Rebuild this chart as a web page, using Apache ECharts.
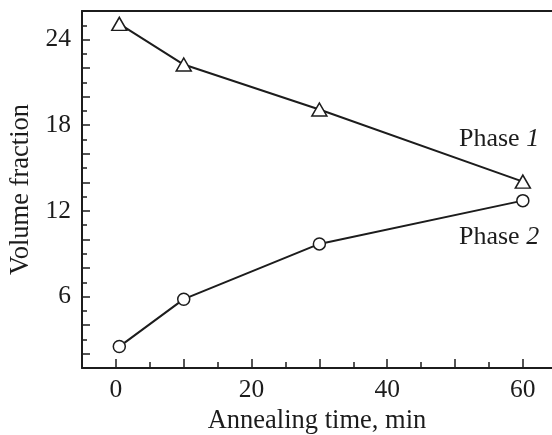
<!DOCTYPE html>
<html>
<head>
<meta charset="utf-8">
<script src="https://cdn.jsdelivr.net/npm/echarts@6/dist/echarts.min.js"></script>
<style>
    html, body { margin: 0; padding: 0; background: #fff; }
    #chart { width: 552px; height: 435px; }
</style>
</head>
<body>
<div id="chart"></div>
<script>
'use strict';
// values
var times = [0.5, 10, 30, 60];
var phase1 = [25.1, 22.25, 19.1, 14.05];
var phase2 = [2.5, 5.82, 9.69, 12.72];

var xLabels = [0, 20, 40, 60];
var xMajorTicks = [0, 10, 20, 30, 40, 50, 60];
var xMinorTicks = [5, 15, 25, 35, 45, 55];
var yLabels = [6, 12, 18, 24];
var yMajorTicks = [2, 4, 6, 8, 10, 12, 14, 16, 18, 20, 22, 24];
var yMinorTicks = [3, 5, 7, 9, 11, 13, 15, 17, 19, 21, 23, 25];

(function() {
    var font = 'Liberation Serif';
    var ink = '#1c1c1c';
    var chart = echarts.init(document.getElementById('chart'));

    function pairs(xs, ys) {
        var out = [];
        for (var i = 0; i < xs.length; i++) {
            out.push([xs[i], ys[i]]);
        }
        return out;
    }

    var xBase = { type: 'value', min: -5, max: 64.3, splitLine: { show: false } };
    var yBase = { type: 'value', min: 1, max: 26, splitLine: { show: false } };

    var option = {
        animation: false,
        backgroundColor: '#fff',
        textStyle: { fontFamily: font },
        grid: { left: 82, right: 0, top: 11, bottom: 67, containLabel: false, outerBoundsMode: 'none' },
        xAxis: [
            Object.assign({}, xBase, {
                position: 'bottom',
                name: 'Annealing time, min',
                nameLocation: 'middle',
                nameGap: 40,
                nameTextStyle: { fontFamily: font, fontSize: 26.5, color: ink },
                axisLine: { onZero: false, lineStyle: { color: ink, width: 2 } },
                axisTick: { inside: true, length: 9, customValues: xMajorTicks, lineStyle: { color: ink, width: 1.5 } },
                axisLabel: { customValues: xLabels, margin: 9, fontFamily: font, fontSize: 25.5, color: ink }
            }),
            Object.assign({}, xBase, {
                position: 'bottom',
                axisLine: { show: false, onZero: false },
                axisTick: { inside: true, length: 6, customValues: xMinorTicks, lineStyle: { color: ink, width: 1.5 } },
                axisLabel: { show: false }
            }),
            Object.assign({}, xBase, {
                position: 'top',
                axisLine: { onZero: false, lineStyle: { color: ink, width: 2 } },
                axisTick: { show: false },
                axisLabel: { show: false }
            })
        ],
        yAxis: [
            Object.assign({}, yBase, {
                position: 'left',
                name: 'Volume fraction',
                nameLocation: 'middle',
                nameGap: 44,
                nameTextStyle: { fontFamily: font, fontSize: 26.5, color: ink },
                axisLine: { onZero: false, lineStyle: { color: ink, width: 2 } },
                axisTick: { inside: true, length: 8, customValues: yMajorTicks, lineStyle: { color: ink, width: 1.5 } },
                axisLabel: { customValues: yLabels, margin: 11, fontFamily: font, fontSize: 25.5, color: ink }
            }),
            Object.assign({}, yBase, {
                position: 'left',
                axisLine: { show: false, onZero: false },
                axisTick: { inside: true, length: 5, customValues: yMinorTicks, lineStyle: { color: ink, width: 1.5 } },
                axisLabel: { show: false }
            })
        ],
        series: [
            {
                name: 'Phase 1',
                type: 'line',
                data: pairs(times, phase1),
                symbol: 'triangle',
                symbolSize: [15, 13],
                showAllSymbol: true,
                lineStyle: { color: ink, width: 2 },
                itemStyle: { color: '#fff', borderColor: ink, borderWidth: 1.5 },
                z: 3
            },
            {
                name: 'Phase 2',
                type: 'line',
                data: pairs(times, phase2),
                symbol: 'circle',
                symbolSize: 12,
                showAllSymbol: true,
                lineStyle: { color: ink, width: 2 },
                itemStyle: { color: '#fff', borderColor: ink, borderWidth: 1.5 },
                z: 3
            }
        ],
        graphic: [
            {
                type: 'text',
                left: 459,
                top: 126,
                style: {
                    text: '{n|Phase }{i|1}',
                    rich: {
                        n: { fontFamily: font, fontSize: 26, fill: ink },
                        i: { fontFamily: font, fontSize: 26, fontStyle: 'italic', fill: ink }
                    }
                }
            },
            {
                type: 'text',
                left: 459,
                top: 224,
                style: {
                    text: '{n|Phase }{i|2}',
                    rich: {
                        n: { fontFamily: font, fontSize: 26, fill: ink },
                        i: { fontFamily: font, fontSize: 26, fontStyle: 'italic', fill: ink }
                    }
                }
            }
        ]
    };

    chart.setOption(option);
})();
</script>
</body>
</html>
